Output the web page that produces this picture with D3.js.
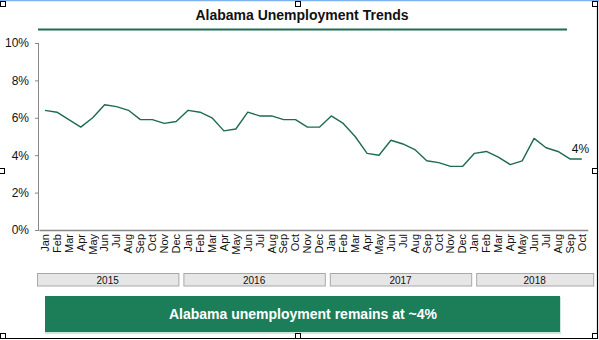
<!DOCTYPE html>
<html><head><meta charset="utf-8">
<script src="https://cdn.jsdelivr.net/npm/d3@7"></script>
<style>
html,body{margin:0;padding:0;background:#fff;}
svg{display:block;font-family:"Liberation Sans",Arial,sans-serif;}
</style></head>
<body>
<svg id="chart" width="599" height="340"></svg>
<script>
const months = ["Jan","Feb","Mar","Apr","May","Jun","Jul","Aug","Sep","Oct","Nov","Dec"];
const years = ["2015","2016","2017","2018"];
const monthsPerYear = [12,12,12,10];
const rates = [
  6.4,6.3,5.9,5.5,6.0,6.7,6.6,6.4,5.9,5.9,5.7,5.8,
  6.4,6.3,6.0,5.3,5.4,6.3,6.1,6.1,5.9,5.9,5.5,5.5,
  6.1,5.7,5.0,4.1,4.0,4.8,4.6,4.3,3.7,3.6,3.4,3.4,
  4.1,4.2,3.9,3.5,3.7,4.9,4.4,4.2,3.8,3.8
];
const yTicks = [0,2,4,6,8,10];
const title = "Alabama Unemployment Trends";
const endLabel = "4%";
const banner = "Alabama unemployment remains at ~4%";

const labels = [];
years.forEach((y,i)=>{ for(let m=0;m<monthsPerYear[i];m++) labels.push({key:y+"-"+m, month:months[m], year:y}); });
const data = labels.map((l,i)=>({...l, v:rates[i], i}));

const svg = d3.select("#chart");
const green = "#1e6b50";

// frame
svg.append("line").attr("x1",0).attr("x2",599).attr("y1",0.5).attr("y2",0.5).attr("stroke","#7fb1ea").attr("stroke-width",1.5);
svg.append("line").attr("x1",597.5).attr("x2",597.5).attr("y1",1).attr("y2",339).attr("stroke","#000").attr("stroke-width",1.2);
svg.append("line").attr("x1",0).attr("x2",598).attr("y1",338.5).attr("y2",338.5).attr("stroke","#000").attr("stroke-width",1.2);

// title
svg.append("text").attr("x",302).attr("y",20).attr("text-anchor","middle")
  .attr("font-size",14).attr("font-weight","bold").attr("fill","#111").text(title);
svg.append("line").attr("x1",38).attr("x2",567).attr("y1",29.5).attr("y2",29.5).attr("stroke",green).attr("stroke-width",2);

// scales
const x = d3.scaleBand().domain(data.map(d=>d.key)).range([39,587.8]).padding(0);
const y = d3.scaleLinear().domain([0,10]).range([230,43]);

// y axis
const yAxis = svg.append("g").attr("transform","translate(39,0)")
  .call(d3.axisLeft(y).tickValues(yTicks).tickSize(4).tickPadding(6).tickFormat(d=>d+"%"));
yAxis.select(".domain").attr("stroke","#888").attr("d","M-0.5,43V230.5");
yAxis.selectAll(".tick line").attr("stroke","#888");
yAxis.selectAll("text").attr("font-size",12).attr("fill","#111").attr("font-family","'Liberation Sans',Arial,sans-serif");

// x axis
const xAxis = svg.append("g").attr("transform","translate(0,230)")
  .call(d3.axisBottom(x).tickSize(0).tickFormat(k=>labels.find(l=>l.key===k).month));
xAxis.select(".domain").attr("stroke","#888").attr("stroke-width",1.3);
xAxis.selectAll("text").attr("font-size",11).attr("fill","#111")
  .attr("font-family","'Liberation Sans',Arial,sans-serif")
  .attr("transform","rotate(-90)").attr("text-anchor","end")
  .attr("x",-4).attr("y",0).attr("dy","0.35em");

// line
const line = d3.line().x(d=>x(d.key)+x.bandwidth()/2).y(d=>y(d.v));
svg.append("path").datum(data).attr("d",line).attr("fill","none")
  .attr("stroke",green).attr("stroke-width",1.4).attr("stroke-linejoin","round");

const last = data[data.length-1];
svg.append("text").attr("x",x(last.key)+x.bandwidth()/2-10).attr("y",y(last.v)-6)
  .attr("font-size",12).attr("fill","#111").text(endLabel);

// year boxes
const xb = d3.scaleLinear().domain([0,data.length]).range([37,37+12.2*data.length]);
let start = 0;
const yearBoxes = years.map((yr,i)=>{ const b={yr,s:start,e:start+monthsPerYear[i]}; start+=monthsPerYear[i]; return b; });
const gy = svg.append("g");
gy.selectAll("rect").data(yearBoxes).join("rect")
  .attr("x",d=>xb(d.s)+0.5).attr("y",273.5).attr("width",d=>xb(d.e)-xb(d.s)-5).attr("height",12.5)
  .attr("fill","#e6e6e6").attr("stroke","#a8a8a8").attr("stroke-width",1);
gy.selectAll("text").data(yearBoxes).join("text")
  .attr("x",d=>(xb(d.s)+xb(d.e)-5)/2).attr("y",283.5).attr("text-anchor","middle")
  .attr("font-size",10).attr("fill","#111").text(d=>d.yr);

// banner
svg.append("rect").attr("x",45).attr("y",297).attr("width",516).attr("height",37).attr("fill","#cfe6dc");
svg.append("rect").attr("x",45).attr("y",296).attr("width",515).attr("height",36).attr("fill","#1b7e59");
svg.append("text").attr("x",303).attr("y",319).attr("text-anchor","middle")
  .attr("font-size",14).attr("font-weight","bold").attr("fill","#fff").text(banner);

// selection handles
const handles = [[0,1],[295,1],[592,1],[-1,168],[592,168],[0,333],[295,333],[592,333]];
svg.selectAll("rect.h").data(handles).join("rect").attr("class","h")
  .attr("x",d=>d[0]+0.5).attr("y",d=>d[1]+0.5).attr("width",5).attr("height",5)
  .attr("fill","#fff").attr("stroke","#000").attr("stroke-width",1);
</script>
</body></html>
